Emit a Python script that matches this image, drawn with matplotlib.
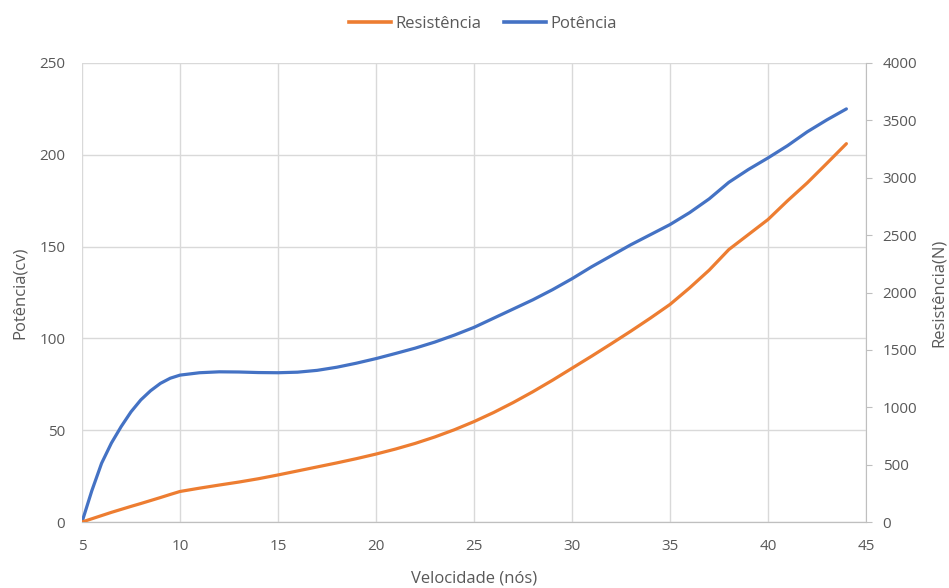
import matplotlib

matplotlib.use("Agg")
import matplotlib.pyplot as plt
from matplotlib.lines import Line2D

# Speed (knots): half-knot steps where the power curve bends sharply
velocidade = [5, 5.5, 6, 6.5, 7, 7.5, 8, 8.5, 9, 9.5, 10] + list(range(11, 45))
potencia_cv = [
    0, 17, 32, 43, 52, 60, 66.5, 71.5, 75.5, 78.3, 80,
    81.3, 81.8, 81.7, 81.4, 81.3, 81.6, 82.6, 84.3, 86.5, 89,
    91.8, 94.7, 98, 101.8, 106, 111, 116, 121, 126.5, 132.5,
    139, 145, 151, 156.5, 162, 168.5, 176, 185, 192, 198.3,
    205, 212.5, 219, 225,
]
resistencia_n = [
    0, 28, 56, 84, 110, 136, 161, 187, 213, 240, 266,
    295, 322, 348, 377, 410, 445, 480, 515, 552, 592,
    636, 685, 741, 804, 875, 954, 1041, 1135, 1235, 1340,
    1445, 1553, 1663, 1777, 1896, 2040, 2195, 2374, 2505, 2636,
    2800, 2955, 3125, 3297,
]

BLUE = "#4472C4"
ORANGE = "#ED7D31"
GRID = "#d9d9d9"
AXIS = "#bfbfbf"
TEXT = "#595959"

plt.rcParams["font.family"] = ["Open Sans", "DejaVu Sans"]

fig = plt.figure(figsize=(9.49, 5.88), dpi=100)
fig.patch.set_facecolor("white")
ax = fig.add_axes([82 / 949, 1 - 522 / 588, (866 - 82) / 949, (522 - 63) / 588])
ax2 = ax.twinx()

ax.plot(velocidade, potencia_cv, color=BLUE, linewidth=2.3,
        solid_capstyle="round", solid_joinstyle="round", zorder=3)
ax2.plot(velocidade, resistencia_n, color=ORANGE, linewidth=2.3,
         solid_capstyle="round", solid_joinstyle="round", zorder=3)

ax.set_xlim(5, 45)
ax.set_ylim(0, 250)
ax2.set_ylim(0, 4000)
ax.set_xticks(range(5, 46, 5))
ax.set_yticks(range(0, 251, 50))
ax2.set_yticks(range(0, 4001, 500))

ax.grid(True, color=GRID, linewidth=1.0)
ax.set_axisbelow(True)

for a in (ax, ax2):
    for side in ("top", "left"):
        a.spines[side].set_visible(False)
    a.spines["bottom"].set_color(AXIS)
    a.spines["right"].set_color(AXIS)
ax.spines["right"].set_visible(False)

ax.tick_params(axis="y", length=0, labelsize=11, labelcolor=TEXT, pad=12)
ax.tick_params(axis="x", length=0, labelsize=11, labelcolor=TEXT, pad=12)
ax2.tick_params(axis="y", length=4, color=AXIS, labelsize=11,
                labelcolor=TEXT, pad=8)

ax.set_xlabel("Velocidade (nós)", fontsize=12, color=TEXT, labelpad=12)
ax.set_ylabel("Potência(cv)", fontsize=12, color=TEXT, labelpad=8)
ax2.set_ylabel("Resistência(N)", fontsize=12, color=TEXT, labelpad=10)

handles = [
    Line2D([], [], color=ORANGE, linewidth=2.6),
    Line2D([], [], color=BLUE, linewidth=2.6),
]
fig.legend(handles, ["Resistência", "Potência"], loc="center",
           bbox_to_anchor=(0.509, 0.959), ncol=2, frameon=False,
           fontsize=12, labelcolor=TEXT, handlelength=2.5,
           handletextpad=0.25, columnspacing=1.4)

fig.savefig("out.png", dpi=100, facecolor="white")
plt.close(fig)
